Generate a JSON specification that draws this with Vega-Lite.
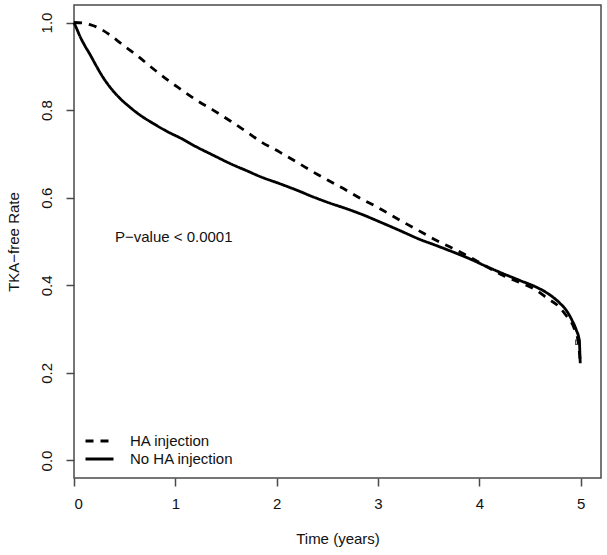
{
  "$schema": "https://vega.github.io/schema/vega-lite/v6.json",
  "width": 527,
  "height": 473,
  "autosize": {"type": "none"},
  "padding": {"left": 74, "top": 5, "right": 6, "bottom": 77},
  "background": "white",
  "config": {
    "font": "Liberation Sans",
    "view": {"stroke": "#4a4a4a", "strokeWidth": 1.5},
    "axis": {
      "domain": false,
      "grid": false,
      "tickColor": "#4a4a4a",
      "tickSize": 8,
      "tickWidth": 1.5,
      "labelFont": "Liberation Sans",
      "labelFontSize": 15,
      "labelColor": "#111",
      "titleFont": "Liberation Sans",
      "titleFontSize": 15,
      "titleFontWeight": "normal",
      "titleColor": "#111"
    }
  },
  "datasets": {
    "km": [
      {"group": "No HA injection", "time": 0, "surv": 1.0},
      {"group": "No HA injection", "time": 0.03, "surv": 0.984},
      {"group": "No HA injection", "time": 0.06, "surv": 0.968},
      {"group": "No HA injection", "time": 0.1, "surv": 0.95},
      {"group": "No HA injection", "time": 0.158, "surv": 0.927},
      {"group": "No HA injection", "time": 0.227, "surv": 0.898},
      {"group": "No HA injection", "time": 0.286, "surv": 0.875},
      {"group": "No HA injection", "time": 0.35, "surv": 0.854},
      {"group": "No HA injection", "time": 0.453, "surv": 0.827},
      {"group": "No HA injection", "time": 0.55, "surv": 0.807},
      {"group": "No HA injection", "time": 0.62, "surv": 0.794},
      {"group": "No HA injection", "time": 0.8, "surv": 0.767},
      {"group": "No HA injection", "time": 0.946, "surv": 0.748},
      {"group": "No HA injection", "time": 1.044, "surv": 0.737},
      {"group": "No HA injection", "time": 1.2, "surv": 0.717},
      {"group": "No HA injection", "time": 1.373, "surv": 0.697},
      {"group": "No HA injection", "time": 1.55, "surv": 0.677},
      {"group": "No HA injection", "time": 1.7, "surv": 0.662},
      {"group": "No HA injection", "time": 1.85, "surv": 0.647},
      {"group": "No HA injection", "time": 2.03, "surv": 0.632},
      {"group": "No HA injection", "time": 2.2, "surv": 0.617},
      {"group": "No HA injection", "time": 2.358, "surv": 0.602},
      {"group": "No HA injection", "time": 2.52, "surv": 0.588},
      {"group": "No HA injection", "time": 2.687, "surv": 0.575},
      {"group": "No HA injection", "time": 2.85, "surv": 0.561},
      {"group": "No HA injection", "time": 3.015, "surv": 0.545},
      {"group": "No HA injection", "time": 3.244, "surv": 0.522},
      {"group": "No HA injection", "time": 3.4, "surv": 0.506},
      {"group": "No HA injection", "time": 3.573, "surv": 0.491},
      {"group": "No HA injection", "time": 3.74, "surv": 0.476},
      {"group": "No HA injection", "time": 3.9, "surv": 0.461},
      {"group": "No HA injection", "time": 4.06, "surv": 0.444},
      {"group": "No HA injection", "time": 4.23, "surv": 0.427},
      {"group": "No HA injection", "time": 4.4, "surv": 0.411},
      {"group": "No HA injection", "time": 4.56, "surv": 0.396},
      {"group": "No HA injection", "time": 4.65, "surv": 0.385},
      {"group": "No HA injection", "time": 4.72, "surv": 0.374},
      {"group": "No HA injection", "time": 4.79, "surv": 0.36},
      {"group": "No HA injection", "time": 4.857, "surv": 0.343},
      {"group": "No HA injection", "time": 4.91, "surv": 0.322},
      {"group": "No HA injection", "time": 4.956, "surv": 0.298},
      {"group": "No HA injection", "time": 4.985, "surv": 0.275},
      {"group": "No HA injection", "time": 4.995, "surv": 0.222},
      {"group": "HA injection", "time": 0, "surv": 1.0},
      {"group": "HA injection", "time": 0.08, "surv": 0.999},
      {"group": "HA injection", "time": 0.158, "surv": 0.995},
      {"group": "HA injection", "time": 0.22, "surv": 0.99},
      {"group": "HA injection", "time": 0.286, "surv": 0.982},
      {"group": "HA injection", "time": 0.37, "surv": 0.969},
      {"group": "HA injection", "time": 0.453, "surv": 0.954},
      {"group": "HA injection", "time": 0.62, "surv": 0.925},
      {"group": "HA injection", "time": 0.8, "surv": 0.891},
      {"group": "HA injection", "time": 0.946, "surv": 0.865},
      {"group": "HA injection", "time": 1.044, "surv": 0.849},
      {"group": "HA injection", "time": 1.2, "surv": 0.824},
      {"group": "HA injection", "time": 1.373, "surv": 0.8},
      {"group": "HA injection", "time": 1.55, "surv": 0.774},
      {"group": "HA injection", "time": 1.7, "surv": 0.751},
      {"group": "HA injection", "time": 1.85, "surv": 0.727},
      {"group": "HA injection", "time": 2.03, "surv": 0.704},
      {"group": "HA injection", "time": 2.2, "surv": 0.681},
      {"group": "HA injection", "time": 2.358, "surv": 0.659},
      {"group": "HA injection", "time": 2.52, "surv": 0.638},
      {"group": "HA injection", "time": 2.687, "surv": 0.617},
      {"group": "HA injection", "time": 2.83, "surv": 0.598},
      {"group": "HA injection", "time": 2.98, "surv": 0.58},
      {"group": "HA injection", "time": 3.244, "surv": 0.545},
      {"group": "HA injection", "time": 3.4, "surv": 0.525},
      {"group": "HA injection", "time": 3.573, "surv": 0.503},
      {"group": "HA injection", "time": 3.74, "surv": 0.484},
      {"group": "HA injection", "time": 3.9, "surv": 0.465},
      {"group": "HA injection", "time": 4.06, "surv": 0.444},
      {"group": "HA injection", "time": 4.23, "surv": 0.423},
      {"group": "HA injection", "time": 4.4, "surv": 0.406},
      {"group": "HA injection", "time": 4.56, "surv": 0.389},
      {"group": "HA injection", "time": 4.66, "surv": 0.372},
      {"group": "HA injection", "time": 4.79, "surv": 0.35},
      {"group": "HA injection", "time": 4.86, "surv": 0.33},
      {"group": "HA injection", "time": 4.93, "surv": 0.305},
      {"group": "HA injection", "time": 4.975, "surv": 0.272},
      {"group": "HA injection", "time": 4.995, "surv": 0.225}
    ],
    "censor": [
      {"time": 4.972, "surv": 0.27}
    ],
    "note": [
      {"time": 0.404, "surv": 0.51, "label": "P−value < 0.0001"}
    ]
  },
  "layer": [
    {
      "data": {"name": "km"},
      "mark": {"type": "line", "color": "black", "strokeWidth": 2.8, "interpolate": "monotone"},
      "encoding": {
        "x": {
          "field": "time", "type": "quantitative",
          "scale": {"domain": [0, 5.2], "nice": false, "zero": false},
          "axis": {"values": [0, 1, 2, 3, 4, 5], "format": "d", "title": "Time (years)", "labelPadding": 10, "titlePadding": 20}
        },
        "y": {
          "field": "surv", "type": "quantitative",
          "scale": {"domain": [-0.04, 1.04], "nice": false, "zero": false},
          "axis": {"values": [0, 0.2, 0.4, 0.6, 0.8, 1.0], "format": ".1f", "labelAngle": -90, "labelAlign": "center", "labelBaseline": "bottom", "labelPadding": 12, "title": "TKA−free Rate", "titlePadding": 18}
        },
        "strokeDash": {
          "field": "group", "type": "nominal",
          "scale": {"domain": ["HA injection", "No HA injection"], "range": [[8, 7], [1, 0]]},
          "legend": {
            "title": null,
            "orient": "bottom-left",
            "offset": 10,
            "padding": 0,
            "symbolType": "stroke",
            "symbolSize": 784,
            "symbolStrokeWidth": 2.8,
            "symbolStrokeColor": "black",
            "labelFontSize": 15,
            "labelFont": "Liberation Sans",
            "labelColor": "#111",
            "labelOffset": 15,
            "rowPadding": 0,
            "clipHeight": 18
          }
        }
      }
    },
    {
      "data": {"name": "censor"},
      "mark": {"type": "point", "shape": "square", "filled": false, "color": "black", "size": 20, "strokeWidth": 1.2},
      "encoding": {
        "x": {"field": "time", "type": "quantitative"},
        "y": {"field": "surv", "type": "quantitative"}
      }
    },
    {
      "data": {"name": "note"},
      "mark": {"type": "text", "align": "left", "baseline": "middle", "fontSize": 15, "font": "Liberation Sans", "color": "#111"},
      "encoding": {
        "x": {"field": "time", "type": "quantitative"},
        "y": {"field": "surv", "type": "quantitative"},
        "text": {"field": "label"}
      }
    }
  ]
}
